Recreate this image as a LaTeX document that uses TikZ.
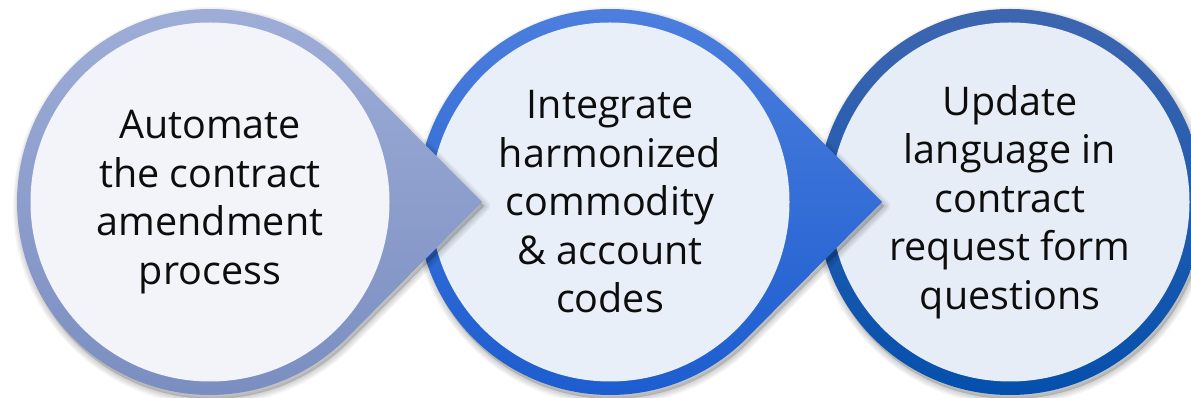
\documentclass[tikz,border=0pt]{standalone}
\usepackage{fontspec}
\setmainfont{Open Sans}
\definecolor{ringAtop}{HTML}{A0AFD9}
\definecolor{ringAbot}{HTML}{7A8DC0}
\definecolor{innerA}{HTML}{F3F4F9}
\definecolor{ringBtop}{HTML}{4E80DE}
\definecolor{ringBbot}{HTML}{1B5CCF}
\definecolor{innerB}{HTML}{E9EFF9}
\definecolor{ringCtop}{HTML}{3E66B0}
\definecolor{ringCbot}{HTML}{0450AD}
\definecolor{innerC}{HTML}{E7EDF6}
\definecolor{txt}{HTML}{0D0D0D}
\tikzset{
  innerdisc/.style={circle, minimum size=359pt, inner sep=0pt, align=center,
    text=txt, font=\fontsize{39.5}{48.5}\selectfont},
  shadowlayer/.style={black, fill=black, opacity=0.045, line join=round}
}
\newcommand{\teardroppath}{(44.8:193) arc[start angle=44.8, end angle=315.2, radius=193] -- (272,0) -- cycle}
\newcommand{\ringpath}{(0,0) circle[radius=193]}
\begin{document}
\begin{tikzpicture}[x=1pt,y=1pt]
\useasboundingbox (0,0) rectangle (1191,398);
% stage 3
\begin{scope}[shift={(1010,196)}]
  \foreach \w in {12,9,6,3}{
    \filldraw[shadowlayer, line width=\w pt, shift={(2,-4)}] \ringpath;}
  \shade[top color=ringCtop, bottom color=ringCbot] \ringpath;
  \node[innerdisc, fill=innerC] (s3) at (0,0) {Update\\language in\\contract\\request form\\questions};
\end{scope}
% stage 2
\begin{scope}[shift={(610,196)}]
  \foreach \w in {12,9,6,3}{
    \filldraw[shadowlayer, line width=\w pt, shift={(2,-4)}] \teardroppath;}
  \shade[top color=ringBtop, bottom color=ringBbot] \teardroppath;
  \node[innerdisc, fill=innerB] (s2) at (0,0) {Integrate\\harmonized\\commodity\\\& account\\codes};
\end{scope}
% stage 1
\begin{scope}[shift={(210,196)}]
  \foreach \w in {12,9,6,3}{
    \filldraw[shadowlayer, line width=\w pt, shift={(2,-4)}] \teardroppath;}
  \shade[top color=ringAtop, bottom color=ringAbot] \teardroppath;
  \node[innerdisc, fill=innerA] (s1) at (0,0) {Automate\\the contract\\amendment\\process};
\end{scope}
\end{tikzpicture}
\end{document}
